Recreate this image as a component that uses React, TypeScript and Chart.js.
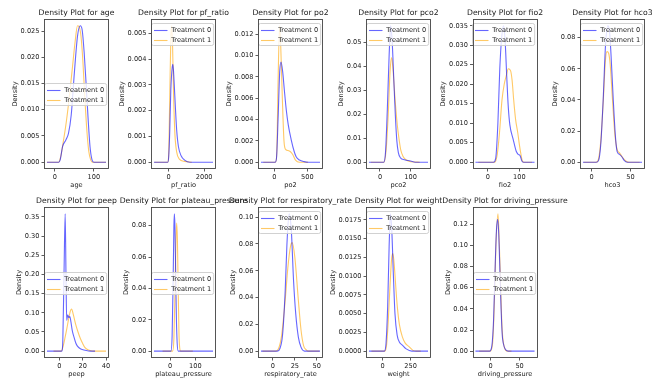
import React, { useEffect, useRef } from "react";
import { Chart, registerables } from "chart.js";
Chart.register(...registerables);

const FONT = "'DejaVu Sans', sans-serif";
const BLUE = "rgba(0,0,255,0.6)";
const ORANGE = "rgba(255,165,0,0.6)";
const seriesLabels = ["Treatment 0", "Treatment 1"];

// ---- data (x, density) ----
const ageT0 = [[-20,0],[10,0],[14,0.0005],[20,0.003],[28,0.0042],[35,0.0055],[42,0.009],[50,0.017],[58,0.024],[65,0.026],[70,0.0252],[75,0.021],[80,0.015],[85,0.0085],[90,0.003],[95,0.0005],[100,0],[131,0]];
const ageT1 = [[-20,0],[10,0],[15,0.001],[22,0.004],[30,0.008],[38,0.013],[45,0.018],[52,0.023],[58,0.026],[62,0.0258],[67,0.024],[72,0.019],[77,0.012],[82,0.006],[87,0.002],[92,0.0004],[96,0],[131,0]];
const ageXTicks = [0, 100];
const ageYTicks = [0, 0.005, 0.01, 0.015, 0.02, 0.025];

const pfT0 = [[-830,0],[-50,0],[0,0.0002],[60,0.0012],[120,0.0028],[200,0.0037],[240,0.0038],[300,0.0032],[380,0.0021],[450,0.00125],[550,0.0006],[700,0.00025],[900,0.00008],[1200,0],[2500,0]];
const pfT1 = [[-800,0],[-50,0],[0,0.0003],[60,0.0025],[120,0.0048],[170,0.0053],[220,0.0045],[280,0.0025],[350,0.0011],[450,0.0004],[600,0.00012],[900,0.00003],[1300,0]];
const pfXTicks = [0, 2000];
const pfYTicks = [0, 0.001, 0.002, 0.003, 0.004, 0.005];

const po2T0 = [[-205,0],[10,0],[30,0.0003],[55,0.004],[80,0.0085],[100,0.0094],[125,0.0085],[150,0.0068],[180,0.0049],[210,0.0035],[255,0.0021],[300,0.001],[330,0.0005],[380,0.0002],[450,0.00005],[520,0],[693,0]];
const po2T1 = [[-170,0],[15,0],[35,0.0008],[55,0.0075],[78,0.0128],[95,0.011],[120,0.006],[145,0.002],[170,0.0012],[200,0.0011],[240,0.001],[280,0.0007],[320,0.0002],[380,0],[510,0]];
const po2XTicks = [0, 500];
const po2YTicks = [0, 0.002, 0.004, 0.006, 0.008, 0.01, 0.012];

const pco2T0 = [[-36,0],[12,0],[18,0.004],[24,0.022],[30,0.045],[35,0.057],[40,0.05],[45,0.035],[50,0.02],[55,0.009],[60,0.004],[67,0.0018],[80,0.001],[100,0.0005],[115,0],[157,0]];
const pco2T1 = [[-30,0],[13,0],[20,0.005],[27,0.02],[33,0.038],[38,0.0437],[43,0.038],[50,0.025],[57,0.015],[63,0.009],[68,0.005],[75,0.0025],[85,0.001],[100,0.0002],[130,0]];
const pco2XTicks = [0, 100];
const pco2YTicks = [0, 0.01, 0.02, 0.03, 0.04, 0.05];

const fio2T0 = [[-39,0],[18,0],[25,0.001],[32,0.01],[38,0.024],[44,0.032],[50,0.035],[55,0.031],[60,0.022],[65,0.014],[70,0.0095],[80,0.006],[90,0.0028],[96,0.002],[102,0.0017],[108,0.0003],[112,0],[148,0]];
const fio2T1 = [[-30,0],[22,0],[30,0.002],[37,0.0075],[45,0.016],[52,0.02],[58,0.022],[65,0.024],[72,0.0235],[77,0.021],[82,0.016],[88,0.011],[95,0.0075],[100,0.0045],[105,0.002],[110,0.0002],[115,0],[140,0]];
const fio2XTicks = [0, 100];
const fio2YTicks = [0, 0.005, 0.01, 0.015, 0.02, 0.025, 0.03, 0.035];

const hco3T0 = [[-11,0],[6,0],[9,0.001],[12,0.012],[15,0.04],[18,0.075],[21,0.0876],[23,0.085],[25,0.07],[28,0.04],[31,0.015],[33,0.0068],[36,0.005],[39,0.0035],[42,0.0012],[46,0],[65,0]];
const hco3T1 = [[-10,0],[6,0],[9,0.002],[12,0.014],[15,0.038],[18,0.066],[20,0.071],[22,0.07],[24,0.063],[27,0.04],[30,0.018],[33,0.008],[36,0.006],[40,0.003],[44,0.0008],[48,0],[62,0]];
const hco3XTicks = [0, 50];
const hco3YTicks = [0, 0.02, 0.04, 0.06, 0.08];

const peepT0 = [[-10.6,0],[2,0],[3,0.03],[4,0.2],[5,0.358],[5.7,0.2],[6.3,0.08],[7.2,0.095],[8,0.088],[9,0.09],[10,0.075],[11,0.055],[12.5,0.037],[14,0.022],[15.5,0.013],[18,0.006],[21,0.003],[25,0.0005],[28,0],[30.6,0]];
const peepT1 = [[-5,0],[1.5,0],[3,0.01],[5,0.037],[6.5,0.06],[8,0.085],[9.5,0.105],[10.5,0.11],[12,0.095],[14,0.07],[16,0.05],[18,0.033],[20,0.02],[22,0.009],[25,0.003],[28,0.0005],[31,0],[40,0]];
const peepXTicks = [0, 20, 40];
const peepYTicks = [0, 0.05, 0.1, 0.15, 0.2, 0.25, 0.3, 0.35];

const plateauT0 = [[-64,0],[3,0],[8,0.01],[12,0.045],[15,0.08],[17,0.0876],[19,0.08],[22,0.05],[25,0.02],[28,0.005],[32,0],[170,0]];
const plateauT1 = [[-30,0],[10,0],[15,0.008],[19,0.035],[23,0.07],[26,0.0817],[29,0.07],[32,0.04],[35,0.012],[38,0.002],[42,0],[90,0]];
const plateauXTicks = [0, 100];
const plateauYTicks = [0, 0.02, 0.04, 0.06, 0.08];

const rrT0 = [[-13.6,0],[5,0],[8,0.002],[11,0.012],[14,0.045],[16,0.08],[18.5,0.1025],[21,0.09],[23.5,0.053],[26,0.028],[29,0.0105],[32,0.003],[36,0],[53.7,0]];
const rrT1 = [[-12,0],[3,0],[6.5,0.002],[10,0.012],[14,0.038],[17,0.062],[20,0.078],[22,0.081],[25,0.07],[29,0.038],[32,0.016],[35,0.004],[38,0.001],[41,0],[53,0]];
const rrXTicks = [0, 25, 50];
const rrYTicks = [0, 0.02, 0.04, 0.06, 0.08, 0.1];

const weightT0 = [[-122,0],[15,0],[30,0.001],[45,0.006],[58,0.014],[70,0.0183],[82,0.016],[95,0.0105],[110,0.005],[130,0.0021],[150,0.0012],[176,0.0008],[210,0.0003],[260,0],[405,0]];
const weightT1 = [[-100,0],[20,0],[35,0.0008],[50,0.004],[65,0.0085],[80,0.0123],[92,0.013],[105,0.0112],[120,0.008],[131,0.0059],[150,0.0035],[176,0.0019],[200,0.0011],[235,0.0006],[270,0.0001],[300,0],[340,0]];
const weightXTicks = [0, 250];
const weightYTicks = [0, 0.0025, 0.005, 0.0075, 0.01, 0.0125, 0.015, 0.0175];

const dpT0 = [[-26.4,0],[-2,0],[2,0.005],[5,0.03],[8,0.085],[10,0.115],[12,0.1248],[14,0.11],[16,0.075],[18,0.04],[20,0.015],[22,0.007],[25,0.002],[30,0],[75.9,0]];
const dpT1 = [[-20,0],[-1,0],[3,0.006],[6,0.04],[9,0.1],[12.6,0.13],[15,0.1],[17,0.065],[19,0.03],[21,0.012],[24,0.003],[28,0],[36,0]];
const dpXTicks = [0, 50];
const dpYTicks = [0, 0.02, 0.04, 0.06, 0.08, 0.1, 0.12];

type Panel = {
  name: string;
  t0: number[][];
  t1: number[][];
  xTicks: number[];
  yTicks: number[];
  dec: number;
  legend: "ur" | "cl";
};

const panels: Panel[] = [
  { name: "age", t0: ageT0, t1: ageT1, xTicks: ageXTicks, yTicks: ageYTicks, dec: 3, legend: "cl" },
  { name: "pf_ratio", t0: pfT0, t1: pfT1, xTicks: pfXTicks, yTicks: pfYTicks, dec: 3, legend: "ur" },
  { name: "po2", t0: po2T0, t1: po2T1, xTicks: po2XTicks, yTicks: po2YTicks, dec: 3, legend: "ur" },
  { name: "pco2", t0: pco2T0, t1: pco2T1, xTicks: pco2XTicks, yTicks: pco2YTicks, dec: 2, legend: "ur" },
  { name: "fio2", t0: fio2T0, t1: fio2T1, xTicks: fio2XTicks, yTicks: fio2YTicks, dec: 3, legend: "ur" },
  { name: "hco3", t0: hco3T0, t1: hco3T1, xTicks: hco3XTicks, yTicks: hco3YTicks, dec: 2, legend: "ur" },
  { name: "peep", t0: peepT0, t1: peepT1, xTicks: peepXTicks, yTicks: peepYTicks, dec: 2, legend: "cl" },
  { name: "plateau_pressure", t0: plateauT0, t1: plateauT1, xTicks: plateauXTicks, yTicks: plateauYTicks, dec: 2, legend: "cl" },
  { name: "respiratory_rate", t0: rrT0, t1: rrT1, xTicks: rrXTicks, yTicks: rrYTicks, dec: 2, legend: "ur" },
  { name: "weight", t0: weightT0, t1: weightT1, xTicks: weightXTicks, yTicks: weightYTicks, dec: 4, legend: "ur" },
  { name: "driving_pressure", t0: dpT0, t1: dpT1, xTicks: dpXTicks, yTicks: dpYTicks, dec: 2, legend: "cl" },
];

// ---- layout ----
const CW = 663, CH = 381;
const COL_LEFT = [44, 151, 258, 366, 472.5, 580];
const AX_W = 65;
const ROW_TOP = [19, 207];
const ROW_BOTTOM = [169, 358];
const Y_AX_W = 40;
const X_AX_H = 22;
const TICK_FS = 6.6;
const TITLE_FS = 7.7;
const TEXT = "#1a1a1a";

function makeConfig(p: Panel, i: number): any {
  const row = i < 6 ? 0 : 1;
  const col = i % 6;
  const axL = COL_LEFT[col];
  const axR = axL + AX_W;
  const axT = ROW_TOP[row];
  const axB = ROW_BOTTOM[row];

  const all = [...p.t0, ...p.t1];
  const xs = all.map((d) => d[0]);
  const ys = all.map((d) => d[1]);
  const xLo = Math.min(...xs), xHi = Math.max(...xs);
  const yLo = Math.min(...ys), yHi = Math.max(...ys);
  const xm = (xHi - xLo) * 0.05, ym = (yHi - yLo) * 0.05;

  const decor = {
    id: "decor" + i,
    afterDatasetsDraw(chart: any) {
      const ctx = chart.ctx;
      const ca = chart.chartArea;
      ctx.save();
      ctx.font = `${TICK_FS}px ${FONT}`;
      const tw = Math.max(...seriesLabels.map((s) => ctx.measureText(s).width));
      const bw = 19.8 + tw + 2.5;
      const bh = 22;
      let bx: number, by: number;
      if (p.legend === "ur") {
        bx = ca.right - 3 - bw;
        by = ca.top + 3.5;
      } else {
        bx = ca.left;
        by = (ca.top + ca.bottom) / 2 - bh / 2;
      }
      bx = Math.round(bx) + 0.5;
      by = Math.round(by) + 0.5;
      ctx.beginPath();
      (ctx as any).roundRect(bx, by, bw, bh, 2);
      ctx.fillStyle = "rgba(255,255,255,0.8)";
      ctx.fill();
      ctx.strokeStyle = "rgba(204,204,204,0.9)";
      ctx.lineWidth = 1;
      ctx.stroke();
      const colors = [BLUE, ORANGE];
      seriesLabels.forEach((s, k) => {
        const y = Math.round(by + 6.5 + k * 9.7) + 0.5;
        ctx.beginPath();
        ctx.moveTo(bx + 2.5, y);
        ctx.lineTo(bx + 16, y);
        ctx.strokeStyle = colors[k];
        ctx.lineWidth = 1.1;
        ctx.stroke();
        ctx.fillStyle = TEXT;
        ctx.textAlign = "left";
        ctx.textBaseline = "middle";
        ctx.fillText(s, bx + 19.8, y);
      });
      ctx.restore();
    },
    afterDraw(chart: any) {
      const ctx = chart.ctx;
      const ca = chart.chartArea;
      ctx.save();
      // frame
      ctx.strokeStyle = "#444";
      ctx.lineWidth = 0.9;
      ctx.strokeRect(Math.round(ca.left) + 0.5, Math.round(ca.top) + 0.5, Math.round(ca.right - ca.left) - 1, Math.round(ca.bottom - ca.top) - 1);
      // title
      ctx.fillStyle = TEXT;
      ctx.font = `${TITLE_FS}px ${FONT}`;
      ctx.textAlign = "center";
      ctx.textBaseline = "alphabetic";
      ctx.fillText("Density Plot for " + p.name, (ca.left + ca.right) / 2, ca.top - 4);
      // x label
      ctx.font = `${TICK_FS}px ${FONT}`;
      ctx.textBaseline = "middle";
      ctx.fillText(p.name, (ca.left + ca.right) / 2, ca.bottom + 16.5);
      // y label
      const lw = Math.max(...p.yTicks.map((v) => ctx.measureText(v.toFixed(p.dec)).width));
      const lx = ca.left - 4.5 - lw - 5.5;
      ctx.translate(lx, (ca.top + ca.bottom) / 2);
      ctx.rotate(-Math.PI / 2);
      ctx.fillText("Density", 0, 0);
      ctx.restore();
    },
  };

  const tickFont = { family: FONT, size: TICK_FS };
  return {
    type: "line",
    data: {
      datasets: [
        { label: seriesLabels[0], data: p.t0, borderColor: BLUE, borderWidth: 1.1, pointRadius: 0, fill: false, cubicInterpolationMode: "monotone" },
        { label: seriesLabels[1], data: p.t1, borderColor: ORANGE, borderWidth: 1.1, pointRadius: 0, fill: false, cubicInterpolationMode: "monotone" },
      ],
    },
    options: {
      animation: false,
      responsive: false,
      devicePixelRatio: 1,
      events: [],
      layout: {
        padding: { left: axL - Y_AX_W, top: axT, right: CW - axR, bottom: CH - axB - X_AX_H },
      },
      plugins: { legend: { display: false }, tooltip: { enabled: false }, title: { display: false } },
      scales: {
        x: {
          type: "linear",
          min: xLo - xm,
          max: xHi + xm,
          afterBuildTicks: (s: any) => { s.ticks = p.xTicks.map((v) => ({ value: v })); },
          afterFit: (s: any) => { s.height = X_AX_H; },
          ticks: { font: tickFont, color: TEXT, padding: 1.5, maxRotation: 0, minRotation: 0, autoSkip: false, callback: (v: any) => String(v) },
          grid: { display: true, drawOnChartArea: false, drawTicks: true, tickLength: 2.5, tickColor: "#333", tickWidth: 0.8 },
          border: { display: false },
        },
        y: {
          type: "linear",
          min: yLo - ym,
          max: yHi + ym,
          afterBuildTicks: (s: any) => { s.ticks = p.yTicks.map((v) => ({ value: v })); },
          afterFit: (s: any) => { s.width = Y_AX_W; },
          ticks: { font: tickFont, color: TEXT, padding: 2, autoSkip: false, callback: (v: any) => Number(v).toFixed(p.dec) },
          grid: { display: true, drawOnChartArea: false, drawTicks: true, tickLength: 2.5, tickColor: "#333", tickWidth: 0.8 },
          border: { display: false },
        },
      },
    },
    plugins: [decor],
  };
}

function PanelChart({ p, i }: { p: Panel; i: number }) {
  const ref = useRef<HTMLCanvasElement>(null);
  useEffect(() => {
    const chart = new Chart(ref.current as HTMLCanvasElement, makeConfig(p, i));
    return () => chart.destroy();
  }, [p, i]);
  return (
    <canvas
      ref={ref}
      width={CW}
      height={CH}
      style={{ position: "absolute", left: 0, top: 0, width: CW, height: CH }}
    />
  );
}

export default function App() {
  return (
    <div style={{ position: "absolute", left: 0, top: 0, width: CW, height: CH, background: "#fff", overflow: "hidden" }}>
      {panels.map((p, i) => (
        <PanelChart key={p.name} p={p} i={i} />
      ))}
    </div>
  );
}
